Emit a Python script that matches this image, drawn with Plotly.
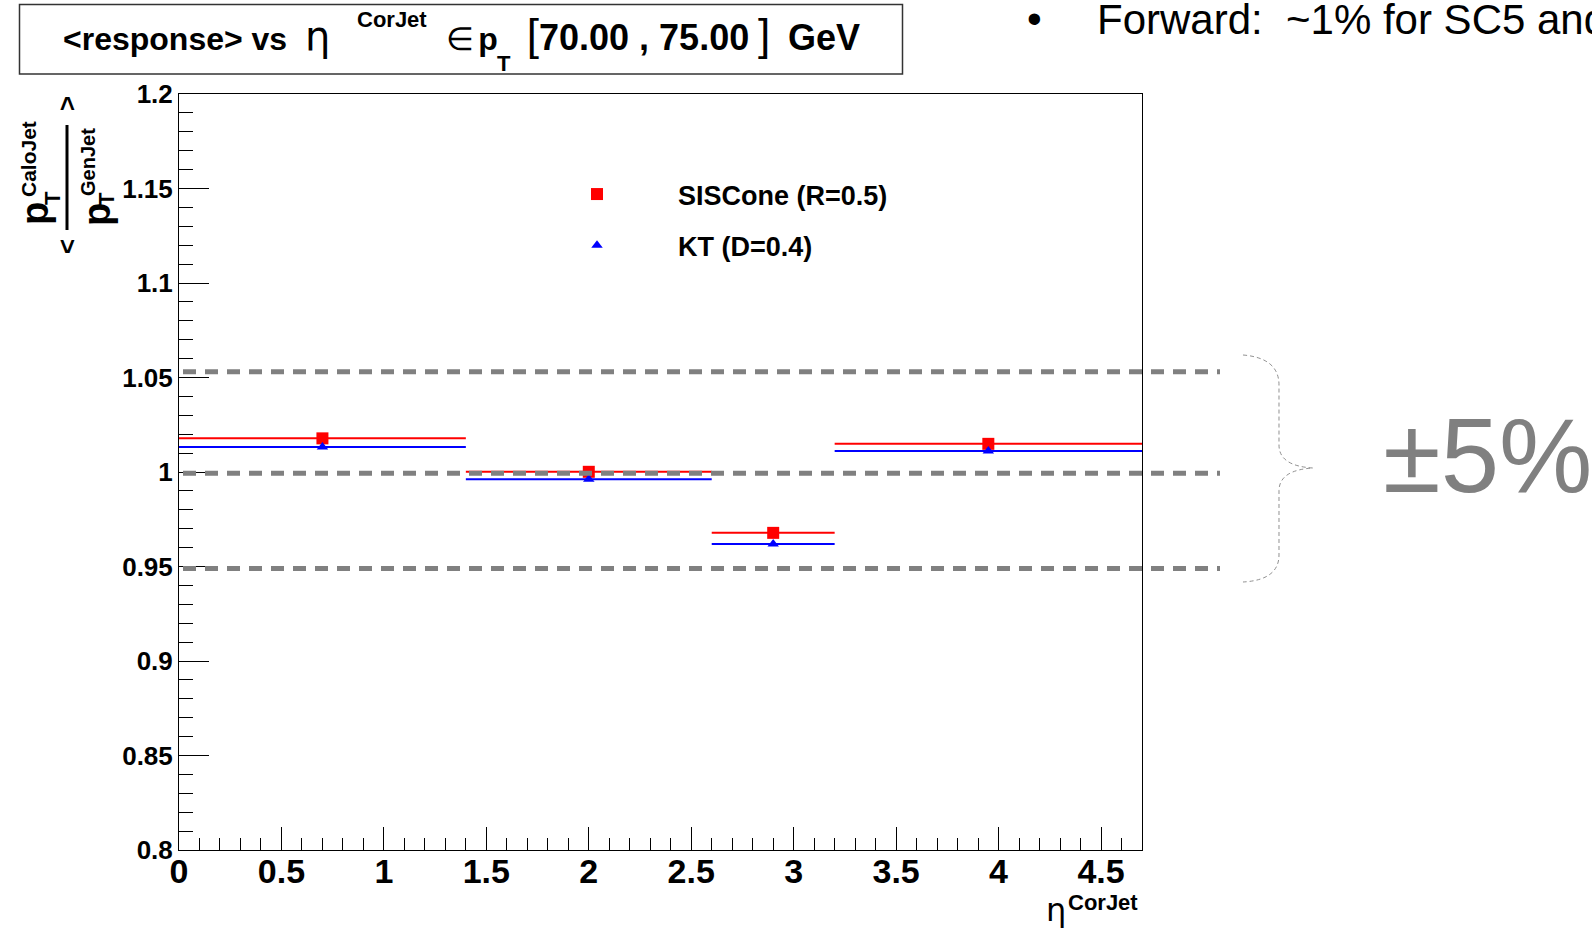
import plotly.graph_objects as go

# ---------------- data ----------------
bin_lo = [0.0, 1.4, 2.6, 3.2]
bin_hi = [1.4, 2.6, 3.2, 4.7]
eta_center = [0.7, 2.0, 2.9, 3.95]
sis_response = [1.0178, 1.0001, 0.9678, 1.0149]
kt_response = [1.0132, 0.9962, 0.9619, 1.0111]
guide_levels = [1.053, 0.9993, 0.949]
x_ticks = [0, 0.5, 1, 1.5, 2, 2.5, 3, 3.5, 4, 4.5]
y_ticks = [0.8, 0.85, 0.9, 0.95, 1.0, 1.05, 1.1, 1.15, 1.2]

half_w = [(h - l) / 2 for l, h in zip(bin_lo, bin_hi)]

# ---------------- layout geometry (pixels) ----------------
FW, FH = 1592, 928
L, T, R, B = 179, 94, 1142, 850
W, H = R - L, B - T


def px(x):
    return (x - L) / W


def py(y):
    return (B - y) / H


FONT = "Liberation Sans, Arial, Helvetica, sans-serif"

fig = go.Figure()

fig.add_trace(go.Scatter(
    x=eta_center, y=sis_response, mode="markers", name="SISCone (R=0.5)",
    legendgroup="a",
    marker=dict(symbol="square", size=12, color="#ff0000"),
    error_x=dict(type="data", array=half_w, color="#ff0000", thickness=2, width=0),
))
fig.add_trace(go.Scatter(
    x=eta_center, y=kt_response, mode="markers", name="KT (D=0.4)",
    legendgroup="b",
    marker=dict(symbol="triangle-up", size=10, color="#0000ff"),
    error_x=dict(type="data", array=half_w, color="#0000ff", thickness=2, width=0),
))

shapes = []
# dashed guide lines (extend beyond the frame to the right)
for g in guide_levels:
    shapes.append(dict(type="line", xref="paper", yref="y", x0=px(183), x1=px(1220),
                       y0=g, y1=g, line=dict(color="#808080", width=5, dash="13px,9px"),
                       layer="above"))

# curly brace
pts = [(1243, 355), (1279, 358), (1279, 385), (1279, 445), (1279, 466), (1313, 468),
       (1279, 470), (1279, 491), (1279, 555), (1279, 580), (1243, 582)]
P = [f"{px(a):.5f},{py(b):.5f}" for a, b in pts]
path = (f"M {P[0]} Q {P[1]} {P[2]} L {P[3]} Q {P[4]} {P[5]} "
        f"Q {P[6]} {P[7]} L {P[8]} Q {P[9]} {P[10]}")
shapes.append(dict(type="path", xref="paper", yref="paper", path=path,
                   line=dict(color="#909090", width=1, dash="4px,3px")))

# title box
shapes.append(dict(type="rect", xref="paper", yref="paper", x0=px(19.5), x1=px(902.5),
                   y0=py(74), y1=py(4.5), line=dict(color="#333333", width=1.5),
                   fillcolor="rgba(0,0,0,0)"))
# fraction bar in y title
shapes.append(dict(type="line", xref="paper", yref="paper", x0=px(67), x1=px(67),
                   y0=py(125), y1=py(230), line=dict(color="black", width=3)))

ann = []


def A(text, x, y, size, color="black", xanchor="center", yanchor="middle", angle=0, bold=False):
    ann.append(dict(text=text, x=px(x), y=py(y), xref="paper", yref="paper",
                    xanchor=xanchor, yanchor=yanchor, showarrow=False, textangle=angle,
                    font=dict(family=FONT, size=size, color=color,
                              weight="bold" if bold else "normal")))


NB = "&nbsp;"
ETA = "<span style='font-family:DejaVu Sans;font-size:40px'>η</span>"
title_text = (
    "<b>&lt;response&gt; vs</b>" + NB * 2
    + ETA + NB * 13
    + "∈" + "<span style='font-size:16px'>" + NB + "</span>"
    + "<b>p</b>"
    + "<span style='font-size:26px'>" + NB * 4 + "</span>"
    + "<span style='font-size:44px'>[</span>"
    + "<b><span style='font-size:36px'>70.00 , 75.00</span></b>" + NB
    + "<span style='font-size:44px'>]</span>" + NB * 2
    + "<b><span style='font-size:36px'>GeV</span></b>"
)
A(title_text, 61, 35, 32, xanchor="left")
A("<b>CorJet</b>", 355, 20, 22, xanchor="left")
A("<b>T</b>", 495, 64, 22, xanchor="left")

# top-right slide text
A("•", 1034, 18, 42)
A("Forward:  ~1% for SC5 and", 1095, 20, 42, xanchor="left")

# ±5%
A("±5%", 1381, 455, 105, color="#808080", xanchor="left")

# x-axis title
A("<span style='font-family:DejaVu Sans'>η</span>", 1056, 910, 32)
A("<b>CorJet</b>", 1140, 903, 22, xanchor="right")

# y-axis title pieces (rotated)
A("<b>p</b>", 35, 214, 38, angle=-90)
A("<b>T</b>", 52, 198, 22, angle=-90)
A("<b>CaloJet</b>", 29, 159, 21, angle=-90)
A("<b>p</b>", 97, 215, 38, angle=-90)
A("<b>T</b>", 107, 199, 22, angle=-90)
A("<b>GenJet</b>", 88, 162, 20, angle=-90)
A("<b>&gt;</b>", 67, 104, 26, angle=-90)
A("<b>&lt;</b>", 67, 247, 26, angle=-90)

fig.update_layout(
    width=FW, height=FH, autosize=False,
    margin=dict(l=L, r=FW - R, t=T, b=FH - B, pad=0),
    paper_bgcolor="white", plot_bgcolor="white",
    font=dict(family=FONT, color="black"),
    shapes=shapes, annotations=ann,
    showlegend=True,
    legend=dict(x=px(516), y=py(170), xanchor="left", yanchor="top",
                font=dict(family=FONT, size=27, weight="bold", color="black"),
                bgcolor="rgba(0,0,0,0)", itemwidth=152, tracegroupgap=13),
)

fig.update_xaxes(
    range=[0, 4.7], tickvals=x_ticks, ticktext=[f"{v:g}" for v in x_ticks],
    showgrid=False, zeroline=False, showline=True, linecolor="black", linewidth=1,
    mirror=True, ticks="inside", ticklen=23, tickwidth=1, tickcolor="black",
    ticklabelstandoff=-9,
    tickfont=dict(family=FONT, size=34, weight="bold", color="black"),
    minor=dict(dtick=0.1, ticks="inside", ticklen=12, tickwidth=1, tickcolor="black"),
)
fig.update_yaxes(
    range=[0.8, 1.2], tickvals=y_ticks, ticktext=[f"{v:g}" for v in y_ticks],
    showgrid=False, zeroline=False, showline=True, linecolor="black", linewidth=1,
    mirror=True, ticks="inside", ticklen=30, tickwidth=1, tickcolor="black",
    tickfont=dict(family=FONT, size=26, weight="bold", color="black"),
    minor=dict(dtick=0.01, tick0=0.8, ticks="inside", ticklen=14, tickwidth=1, tickcolor="black"),
)

fig.write_html("out.html")
